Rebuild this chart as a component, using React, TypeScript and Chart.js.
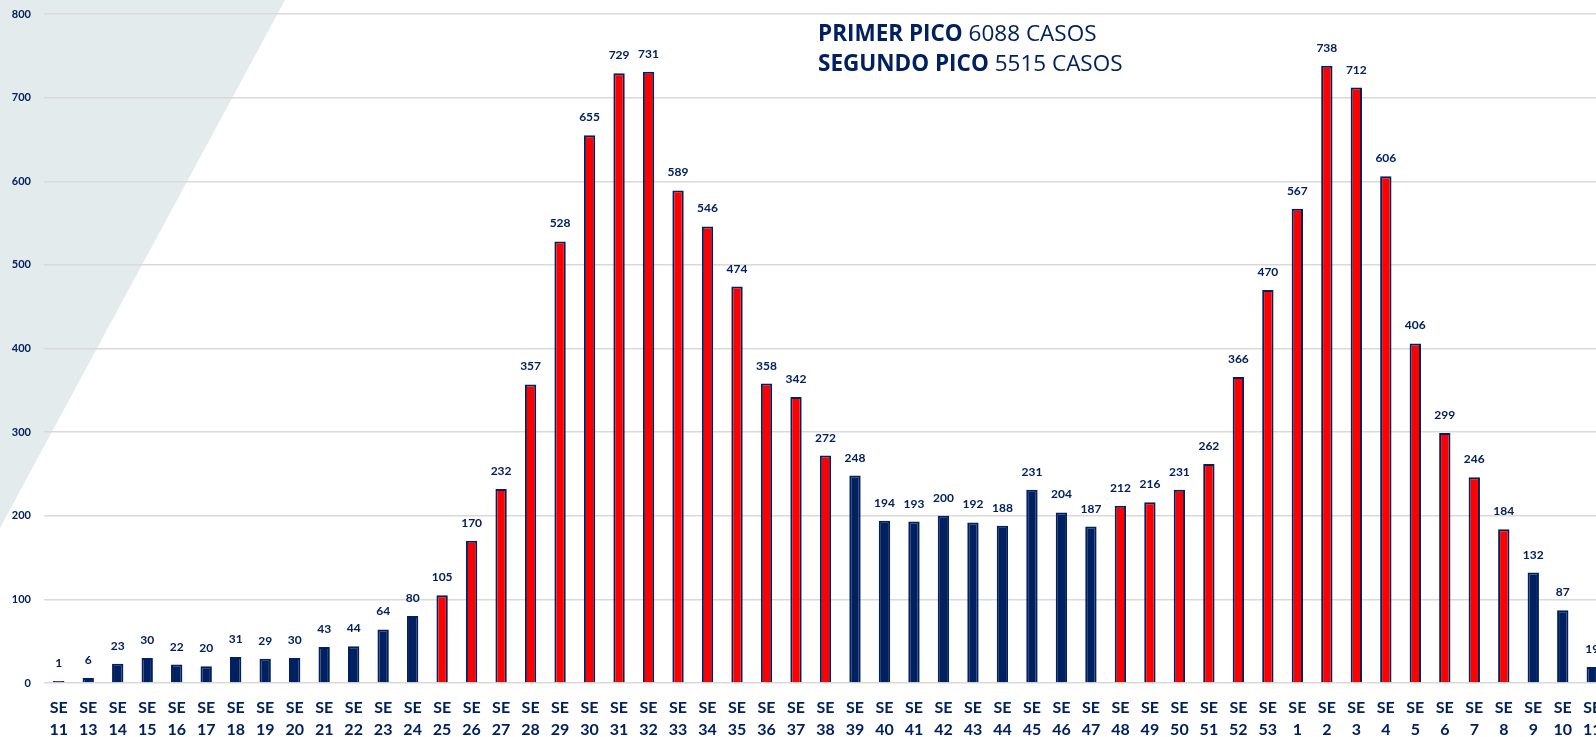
import React, { useEffect, useRef } from "react";
import { Chart, registerables } from "chart.js";

Chart.register(...registerables);

const weeks = [
  "11", "13", "14", "15", "16", "17", "18", "19", "20", "21", "22", "23", "24", "25",
  "26", "27", "28", "29", "30", "31", "32", "33", "34", "35", "36", "37", "38", "39",
  "40", "41", "42", "43", "44", "45", "46", "47", "48", "49", "50", "51", "52", "53",
  "1", "2", "3", "4", "5", "6", "7", "8", "9", "10", "11",
];
const cases = [
  1, 6, 23, 30, 22, 20, 31, 29, 30, 43, 44, 64, 80, 105,
  170, 232, 357, 528, 655, 729, 731, 589, 546, 474, 358, 342, 272, 248,
  194, 193, 200, 192, 188, 231, 204, 187, 212, 216, 231, 262, 366, 470,
  567, 738, 712, 606, 406, 299, 246, 184, 132, 87, 19,
];
// 1 = week inside a peak (red bar), 0 = outside (navy bar)
const inPeak = [
  0, 0, 0, 0, 0, 0, 0, 0, 0, 0, 0, 0, 0, 1,
  1, 1, 1, 1, 1, 1, 1, 1, 1, 1, 1, 1, 1, 0,
  0, 0, 0, 0, 0, 0, 0, 0, 1, 1, 1, 1, 1, 1,
  1, 1, 1, 1, 1, 1, 1, 1, 0, 0, 0,
];
const noteBold = ["PRIMER PICO", "SEGUNDO PICO"];
const noteText = [" 6088 CASOS", " 5515 CASOS"];

const NAVY = "#002060";
const RED = "#FF0000";
const FONT = "Lato";
const NOTE_FONT = "'Open Sans'";

export default function App() {
  const ref = useRef<HTMLCanvasElement | null>(null);

  useEffect(() => {
    const canvas = ref.current!;
    const bgPlugin = {
      id: "bgShape",
      beforeDraw(chart: any) {
        const ctx = chart.ctx;
        ctx.save();
        ctx.fillStyle = "#E4EBED";
        ctx.beginPath();
        ctx.moveTo(0, 0);
        ctx.lineTo(285, 0);
        ctx.lineTo(0, 528);
        ctx.closePath();
        ctx.fill();
        ctx.restore();
      },
    };
    const labelPlugin = {
      id: "valueLabels",
      afterDatasetsDraw(chart: any) {
        const ctx = chart.ctx;
        const meta = chart.getDatasetMeta(0);
        ctx.save();
        ctx.fillStyle = NAVY;
        ctx.font = `bold 12px ${FONT}`;
        ctx.textAlign = "center";
        ctx.textBaseline = "alphabetic";
        meta.data.forEach((bar: any, i: number) => {
          ctx.fillText(String(cases[i]), bar.x, bar.y - 14);
        });
        // annotation
        const x0 = 818;
        const ys = [41, 71];
        ctx.textAlign = "left";
        noteBold.forEach((b, i) => {
          ctx.font = `bold 22.5px ${NOTE_FONT}`;
          ctx.fillText(b, x0, ys[i]);
          const w = ctx.measureText(b).width;
          ctx.font = `22.5px ${NOTE_FONT}`;
          ctx.fillText(noteText[i], x0 + w, ys[i]);
        });
        ctx.restore();
      },
    };

    const chart = new Chart(canvas, {
      type: "bar",
      data: {
        labels: weeks.map((w) => ["SE", w]),
        datasets: [
          {
            data: cases,
            backgroundColor: inPeak.map((p) => (p ? RED : NAVY)),
            borderColor: NAVY,
            borderWidth: 2,
            categoryPercentage: 1,
            barPercentage: 0.385,
            minBarLength: 2,
          },
        ],
      },
      options: {
        responsive: false,
        animation: false,
        layout: { padding: { top: 14, left: 0, right: 0, bottom: 0 } },
        plugins: { legend: { display: false }, tooltip: { enabled: false } },
        scales: {
          x: {
            grid: { display: false, drawTicks: false },
            border: { display: false },
            afterFit(scale: any) {
              scale.height = 54;
              scale.paddingLeft = 0;
              scale.paddingRight = 0;
            },
            ticks: {
              autoSkip: false,
              maxRotation: 0,
              padding: 14,
              color: NAVY,
              font: { family: FONT, size: 16, weight: "bold", lineHeight: 1.35 },
            },
          },
          y: {
            min: 0,
            max: 800,
            afterFit(scale: any) {
              scale.width = 44;
              scale.paddingTop = 0;
              scale.paddingBottom = 0;
            },
            grid: { color: "#D9D9D9", lineWidth: 1.5, drawTicks: false },
            border: { display: false },
            ticks: {
              stepSize: 100,
              padding: 13,
              color: NAVY,
              font: { family: FONT, size: 11, weight: "bold" },
            },
          },
        },
      },
      plugins: [bgPlugin, labelPlugin],
    });
    return () => chart.destroy();
  }, []);

  return (
    <div
      style={{
        position: "fixed",
        left: 0,
        top: 0,
        width: 1596,
        height: 737,
        overflow: "hidden",
        background: "#fff",
      }}
    >
      <canvas ref={ref} width={1607} height={737} style={{ width: 1607, height: 737, display: "block" }} />
    </div>
  );
}
